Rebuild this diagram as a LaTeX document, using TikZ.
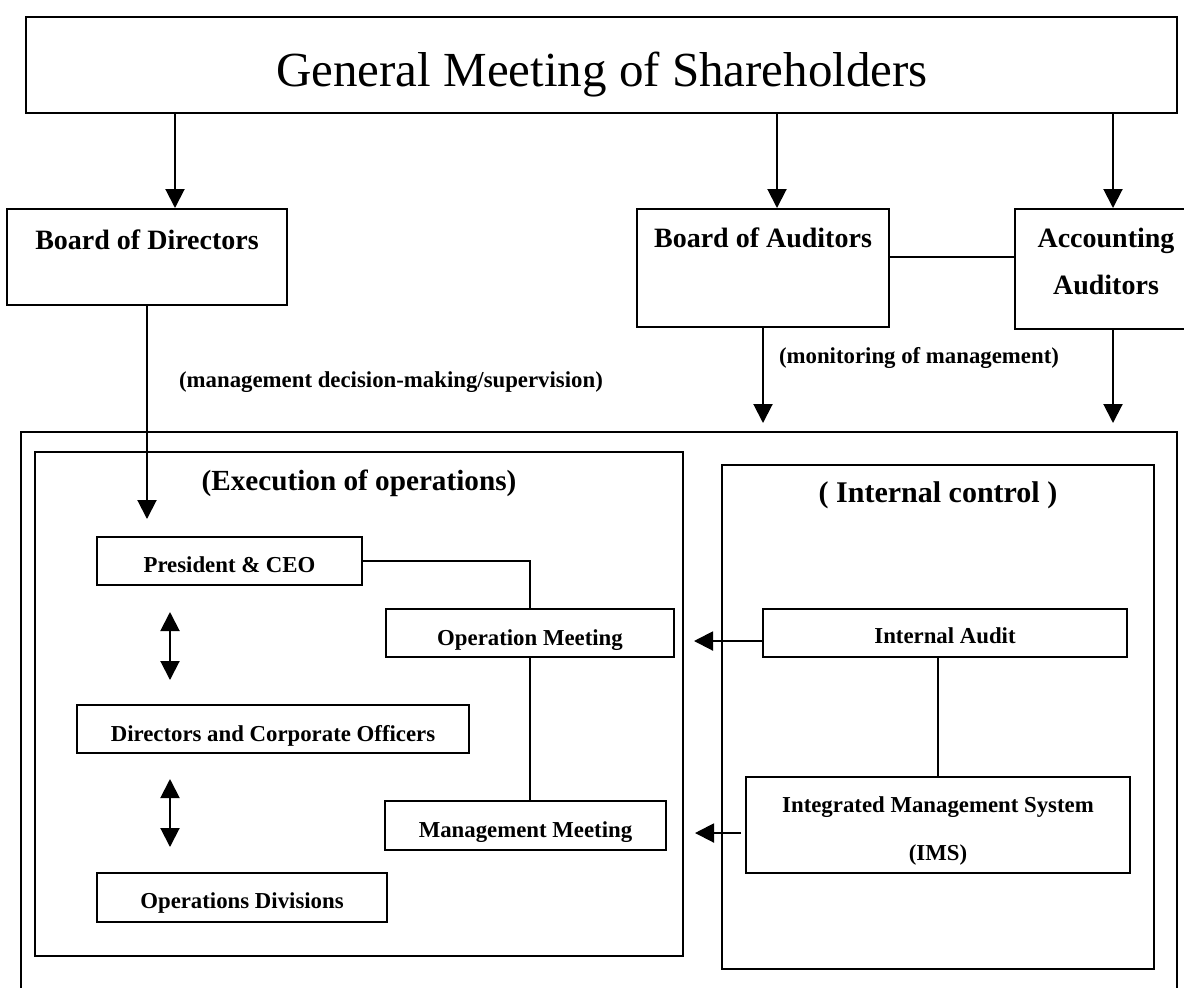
\documentclass[tikz,border=0pt]{standalone}
\usepackage{fontspec}
\setmainfont{Liberation Serif}
\usetikzlibrary{arrows.meta}

\begin{document}
\begin{tikzpicture}[x=0.5pt,y=-0.5pt,line width=1pt,
    >={Triangle[width=9.5pt,length=9.5pt]},
    box/.style={draw,inner sep=0pt},
    txt/.style={anchor=base,inner sep=0pt,font=\bfseries\fontsize{11.4}{14}\selectfont},
    head/.style={anchor=base,inner sep=0pt,font=\bfseries\fontsize{14}{17}\selectfont},
    title/.style={anchor=base,inner sep=0pt,font=\bfseries\fontsize{14.6}{18}\selectfont}]
  \useasboundingbox (0,0) rectangle (1184,987);
  \clip (0,0) rectangle (1184,987);

  % shareholders and the boards
  \node[box,minimum width=575.75pt,minimum height=48pt] (gm) at (601.25,65) {};
  \node[anchor=base,inner sep=0pt,font=\fontsize{24.5}{29}\selectfont] (gmtxt) at (602,86) {General Meeting of Shareholders};
  \node[box,minimum width=140pt,minimum height=48pt] (bod) at (147,257) {};
  \node[head] (bodtxt) at (147,249) {Board of Directors};
  \node[box,minimum width=126pt,minimum height=59pt] (boa) at (763,268) {};
  \node[head] (boatxt) at (763,247) {Board of Auditors};
  \node[box,minimum width=98pt,minimum height=60pt] (acc) at (1113,269) {};
  \node[head] (acctxta) at (1106,247) {Accounting};
  \node[head] (acctxtb) at (1106,294) {Auditors};

  \coordinate (bodin) at (175,0);
  \coordinate (boain) at (777,0);
  \coordinate (link) at (0,257);
  \draw[->] (gm.south -| bodin) -- (bod.north -| bodin);
  \draw[->] (gm.south -| boain) -- (boa.north -| boain);
  \draw[->] (gm.south -| acc.north) -- (acc.north);
  \draw (boa.east |- link) -- (acc.west |- link);

  % company frame
  \node[box,minimum width=578pt,minimum height=289pt] (ops) at (599,721) {};
  \draw[->,shorten >=4pt] (boa.south) -- (boa.south |- ops.north);
  \draw[->,shorten >=4pt] (acc.south) -- (acc.south |- ops.north);
  \node[txt] (montxt) at (919,363) {(monitoring of management)};
  \node[txt] (suptxt) at (391,387) {(management decision-making/supervision)};

  % execution of operations
  \node[box,minimum width=324pt,minimum height=252pt] (ex) at (359,704) {};
  \node[title] (extxt) at (359,490) {(Execution of operations)};
  \node[box,minimum width=132.5pt,minimum height=24pt] (pres) at (229.5,561) {};
  \node[txt] (prestxt) at (229.5,572) {President \& CEO};
  \node[box,minimum width=196pt,minimum height=24pt] (dco) at (273,729) {};
  \node[txt] (dcotxt) at (273,741) {Directors and Corporate Officers};
  \node[box,minimum width=145pt,minimum height=24.5pt] (opsd) at (242,897.5) {};
  \node[txt] (opsdtxt) at (242,908) {Operations Divisions};
  \node[box,minimum width=144pt,minimum height=24pt] (opm) at (530,633) {};
  \node[txt] (opmtxt) at (530,645) {Operation Meeting};
  \node[box,minimum width=140.5pt,minimum height=24.5pt] (mgm) at (525.5,825.5) {};
  \node[txt] (mgmtxt) at (525.5,837) {Management Meeting};

  \draw[->,shorten >=8.5pt] (bod.south) -- (bod.south |- pres.north);
  \draw (pres.east) -| (opm.north);
  \draw (opm.south) -- (opm.south |- mgm.north);
  \coordinate (dax) at (170,0);
  \draw[<->,shorten <=13pt,shorten >=12pt] (pres.south -| dax) -- (dco.north -| dax);
  \draw[<->,shorten <=12.5pt,shorten >=12.5pt] (dco.south -| dax) -- (opsd.north -| dax);

  % internal control
  \node[box,minimum width=216pt,minimum height=252pt] (ic) at (938,717) {};
  \node[title,font=\bfseries\fontsize{15}{18}\selectfont] (ictxt) at (938,502) {( Internal control )};
  \node[box,minimum width=182pt,minimum height=24pt] (ia) at (945,633) {};
  \node[txt] (iatxt) at (945,643) {Internal Audit};
  \node[box,minimum width=192pt,minimum height=48pt] (ims) at (938,825) {};
  \node[txt] (imstxta) at (938,812) {Integrated Management System};
  \node[txt] (imstxtb) at (938,860) {(IMS)};

  \draw (ims.north) -- (ims.north |- ia.south);
  \coordinate (ialn) at (0,641);
  \coordinate (imsln) at (0,833);
  \draw[->,shorten >=5pt] (ia.west |- ialn) -- (ex.east |- ialn);
  \draw[->,shorten <=2pt,shorten >=5.5pt] (ims.west |- imsln) -- (ex.east |- imsln);
\end{tikzpicture}
\end{document}
